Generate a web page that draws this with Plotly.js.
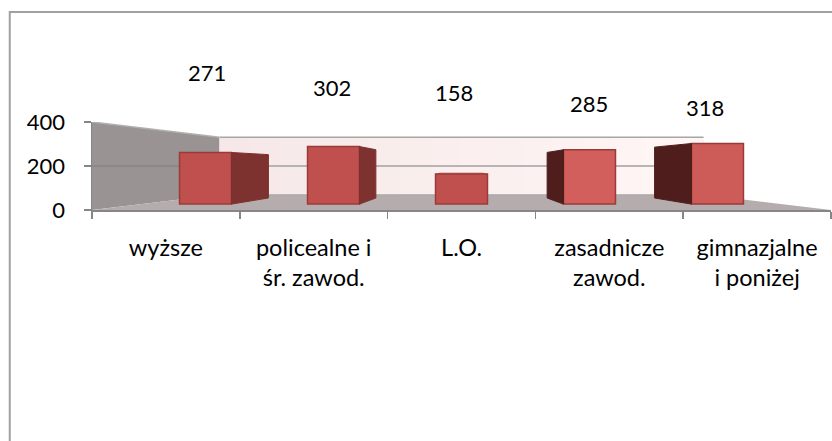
<!DOCTYPE html>
<html><head><meta charset="utf-8">
<script src="https://cdn.plot.ly/plotly-3.0.1.min.js"></script>
<style>html,body{margin:0;padding:0;background:#fff}#c{width:832px;height:441px}</style>
</head><body><div id="c"></div>
<script>
const categories = ['wyższe','policealne i<br>śr. zawod.','L.O.','zasadnicze<br>zawod.','gimnazjalne<br>i poniżej'];
const values = [271,302,158,285,318];
const yTicks = [0,200,400];

const AXIS = '#868686', CX = 2.5, CY = 200;
const K_BACKWALL = 0.655, K_FRONT = 0.866, K_BARBACK = 0.727, HALF = 0.203;
const px = (x,k)=>CX+(x-CX)*k, py = (y,k)=>CY+(y-CY)*k;
const idx = values.map((_,i)=>i+0.5);

const sideColors = ['#7d3230','#7d3230','#7d3230','#4f1e1c','#4f1e1c'];
const traces = [];
values.forEach((v,i)=>{
  if (Math.abs(idx[i]-CX) > HALF) {
    const e = idx[i]<CX ? idx[i]+HALF : idx[i]-HALF;
    traces.push({type:'scatter',mode:'lines',fill:'toself',fillcolor:sideColors[i],line:{color:sideColors[i],width:1},hoverinfo:'skip',showlegend:false,
      x:[px(e,K_FRONT),px(e,K_BARBACK),px(e,K_BARBACK),px(e,K_FRONT),px(e,K_FRONT)],
      y:[py(v,K_FRONT),py(v,K_BARBACK),py(0,K_BARBACK),py(0,K_FRONT),py(v,K_FRONT)]});
  }
  if (v<CY) traces.push({type:'scatter',mode:'lines',fill:'toself',fillcolor:'#a8433f',line:{color:'#a8433f',width:0},hoverinfo:'skip',showlegend:false,
    x:[px(idx[i]-HALF,K_FRONT),px(idx[i]-HALF,K_BARBACK),px(idx[i]+HALF,K_BARBACK),px(idx[i]+HALF,K_FRONT)],
    y:[py(v,K_FRONT),py(v,K_BARBACK),py(v,K_BARBACK),py(v,K_FRONT)]});
});
traces.push({type:'bar',x:idx.map(x=>px(x,K_FRONT)),y:values.map(v=>py(v,K_FRONT)-py(0,K_FRONT)),base:values.map(()=>py(0,K_FRONT)),
  width:2*HALF*K_FRONT,marker:{color:['#c0504d','#c0504d','#c0504d','#d25f5c','#cd5b58'],line:{color:'#9a3b39',width:1.5}},hoverinfo:'skip',showlegend:false});
traces.push({type:'scatter',mode:'none',x:idx,y:values.map(()=>0),xaxis:'x2',yaxis:'y',hoverinfo:'skip',showlegend:false});

const labelX=[0.778,1.624,2.449,3.363,4.147], labelY=[623,559,536,486,468];
const font={family:'Lato, Carlito, sans-serif',size:23.5,color:'#000'};
const annotations=values.map((v,i)=>({xref:'x',yref:'paper',x:labelX[i],y:labelY[i]/400,text:String(v),showarrow:false,xanchor:'center',yanchor:'middle',font:{family:font.family,size:22,color:'#000'}}));

const poly=(pts,fill)=>({type:'path',layer:'below',xref:'x',yref:'y',path:'M'+pts.map(p=>p.join(',')).join('L')+'Z',fillcolor:fill,line:{width:0}});
const line=(a,b,c,w)=>({type:'line',layer:'below',xref:'x',yref:'y',x0:a[0],y0:a[1],x1:b[0],y1:b[1],line:{color:c,width:w}});
const bx0=px(0,K_BACKWALL), bx1=px(5,K_BACKWALL), by=v=>py(v,K_BACKWALL);
const shapes=[poly([[0,0],[bx0,by(0)],[bx0,by(400)],[0,400]],'#999393')];
const STRIPS=16;
for(let s=0;s<STRIPS;s++){
  const t=s/(STRIPS-1), sx=bx0+(bx1-bx0)*s/STRIPS;
  const col=`rgb(${Math.round(246+9*t)},${Math.round(232+14*t)},${Math.round(232+13*t)})`;
  shapes.push(poly([[sx,by(0)],[bx1,by(0)],[bx1,by(400)],[sx,by(400)]],col));
}
shapes.push(
  poly([[0,0],[bx0,by(0)],[bx1,by(0)],[5,0]],'#b5adad'),
  line([0,400],[bx0,by(400)],'#b0b0b0',1.5),
  line([bx0,by(400)],[bx1,by(400)],'#a6a6a6',1.5),
  line([0,200],[bx0,by(200)],'#868686',1.5),
  line([bx0,by(200)],[bx1,by(200)],'#a0a0a0',1.5),
  line([bx0,by(0)],[bx1,by(0)],'#a6a6a6',1),
  {type:'rect',xref:'paper',yref:'paper',layer:'below',x0:-0.1113,x1:1.005,y0:-2.68,y1:2.25,line:{color:'#a0a0a0',width:2},fillcolor:'rgba(0,0,0,0)'}
);
const layout={
  width:832,height:441,margin:{l:92,r:1,t:122,b:231},paper_bgcolor:'#fff',plot_bgcolor:'rgba(0,0,0,0)',
  showlegend:false,bargap:0,font:font,shapes:shapes,annotations:annotations,
  xaxis:{range:[0,5],tickvals:[0,1,2,3,4,5],ticks:'outside',ticklen:7,tickwidth:1.5,tickcolor:AXIS,showticklabels:false,showgrid:false,zeroline:false,showline:true,linecolor:AXIS,linewidth:2,fixedrange:true},
  xaxis2:{overlaying:'x',side:'bottom',range:[0,5],tickvals:idx,ticktext:categories,ticks:'',showgrid:false,zeroline:false,showline:false,tickfont:font,fixedrange:true,ticklabelstandoff:21},
  yaxis:{range:[0,400],tickvals:yTicks,ticks:'outside',ticklen:7,tickwidth:1.5,tickcolor:AXIS,showgrid:false,zeroline:false,showline:true,linecolor:AXIS,linewidth:1.5,tickfont:{family:font.family,size:22,color:'#000'},ticklabelstandoff:14,fixedrange:true}
};
Plotly.newPlot('c',traces,layout,{displayModeBar:false,staticPlot:true});
</script></body></html>
